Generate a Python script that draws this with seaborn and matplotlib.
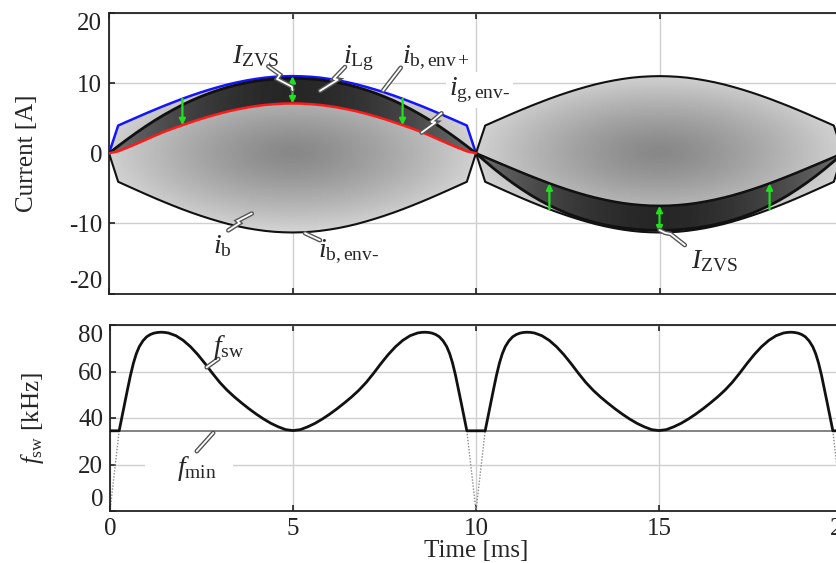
import numpy as np
import matplotlib
matplotlib.use("Agg")
import matplotlib.pyplot as plt
import matplotlib.patheffects as pe
from matplotlib.patches import Polygon, Rectangle
import seaborn as sns

# ---- values ----
# rising quarter of a grid half period [ms]; the curves are symmetric about 5 ms
t_rise = [0, 0.25, 0.5, 0.75, 1, 1.25, 1.5, 1.75, 2, 2.25, 2.5,
          2.75, 3, 3.25, 3.5, 3.75, 4, 4.25, 4.5, 4.75, 5]
# battery current envelopes (same lens in both half periods) [A]
ib_env_pos = [0, 3.95, 4.53, 5.10, 5.67, 6.22, 6.76, 7.27, 7.77, 8.24, 8.68,
              9.09, 9.47, 9.82, 10.12, 10.38, 10.60, 10.78, 10.90, 10.97, 11.0]
ib_env_neg = [0, -4.07, -4.66, -5.25, -5.83, -6.40, -6.95, -7.48, -7.99, -8.47, -8.92,
              -9.34, -9.73, -10.09, -10.40, -10.67, -10.89, -11.07, -11.20, -11.27, -11.30]
# grid current i_Lg and envelope i_g,env- in the positive half period [A]
ilg_1 = [0, 1.02, 2.00, 2.94, 3.84, 4.69, 5.48, 6.21, 6.90, 7.52, 8.08,
         8.59, 9.04, 9.44, 9.78, 10.06, 10.29, 10.47, 10.60, 10.67, 10.70]
igenv_1 = [0, 0.28, 0.80, 1.35, 1.92, 2.50, 3.05, 3.54, 4.00, 4.45, 4.88,
           5.27, 5.64, 5.97, 6.26, 6.51, 6.72, 6.89, 7.00, 7.08, 7.10]
# the same in the negative half period [A]
ilg_2 = [0, -1.15, -2.25, -3.28, -4.25, -5.15, -5.99, -6.75, -7.43, -8.05, -8.61,
         -9.09, -9.52, -9.88, -10.19, -10.44, -10.65, -10.80, -10.91, -10.98, -11.0]
igenv_2 = [0, -0.55, -1.11, -1.66, -2.21, -2.75, -3.28, -3.79, -4.29, -4.76, -5.20,
           -5.61, -5.99, -6.33, -6.63, -6.89, -7.11, -7.28, -7.40, -7.48, -7.50]
arrow_times = [2, 5, 8]

# switching frequency, first half of one grid half period [ms], [kHz]
t_fsw_rise = [0.25, 0.32, 0.40, 0.48, 0.56, 0.64, 0.72, 0.80, 0.90, 1.0, 1.1, 1.2,
              1.3, 1.4, 1.5, 1.6, 1.8, 2.0, 2.2, 2.4, 2.6, 2.8, 3.0, 3.2, 3.4,
              3.6, 3.8, 4.0, 4.2, 4.4, 4.6, 4.8, 5.0]
fsw_rise = [34.5, 40.0, 46.2, 52.4, 58.4, 63.6, 67.7, 70.7, 73.2, 74.9, 75.9, 76.5,
            76.8, 76.9, 76.8, 76.55, 75.4, 73.4, 70.65, 67.25, 63.35, 59.2, 55.3, 51.95, 49.05,
            46.42, 43.94, 41.64, 39.54, 37.69, 36.19, 35.0, 34.6]
f_min = 34.5


def mirror_t(t):
    t = np.asarray(t, float)
    return np.r_[t, 10 - t[-2::-1]]


def mirror_v(v):
    v = np.asarray(v, float)
    return np.r_[v, v[-2::-1]]


# ---- style ----
sns.set_theme(style="white")
plt.rcParams["font.family"] = ["Liberation Serif", "DejaVu Serif"]
plt.rcParams.update({
    "mathtext.fontset": "custom",
    "mathtext.rm": "Liberation Serif",
    "mathtext.it": "Liberation Serif:italic",
    "mathtext.bf": "Liberation Serif:bold",
    "axes.edgecolor": "#222222",
    "axes.linewidth": 1.3,
    "axes.unicode_minus": False,
})
FS = 18
GRID = "#cfcfcf"


def shaded_region(ax, t, top, bottom, shade, z):
    verts = np.column_stack([np.r_[t, t[::-1]], np.r_[top, bottom[::-1]]])
    patch = Polygon(verts, closed=True, facecolor="none", edgecolor="none")
    ax.add_patch(patch)
    xs = np.linspace(t[0], t[-1], 300)
    ys = np.linspace(-12, 12, 240)
    X, Y = np.meshgrid(xs, ys)
    im = ax.imshow(shade(X - (t[0] + t[-1]) / 2, Y), extent=[t[0], t[-1], -12, 12],
                   origin="lower", cmap="gray", vmin=0, vmax=1, aspect="auto",
                   interpolation="bilinear", zorder=z)
    im.set_clip_path(patch)


def lens_shade(dx, y):
    r = np.clip(np.sqrt((dx / 5.3) ** 2 + (y / 11.5) ** 2), 0, 1)
    return 0.53 + 0.31 * r ** 1.3


def band_shade(dx, y):
    r = np.clip(np.abs(dx) / 5.0, 0, 1)
    return 0.15 + 0.28 * r ** 1.7


def line(ax, x, y, color, lw, z=3, **kw):
    sns.lineplot(x=list(x), y=list(y), ax=ax, color=color, linewidth=lw,
                 estimator=None, sort=False, legend=False, zorder=z, **kw)


def leader(ax, pts):
    xs, ys = zip(*pts)
    ax.plot(xs, ys, color="white", lw=1.3, zorder=6, solid_joinstyle="miter",
            path_effects=[pe.Stroke(linewidth=3.3, foreground="#555555"), pe.Normal()])


def label(ax, x, y, s, **kw):
    ax.text(x, y, s, fontsize=20, ha="left", va="baseline", zorder=7, **kw)


fig = plt.figure(figsize=(8.36, 5.63), dpi=100)
ax1 = fig.add_axes([109 / 836, 1 - 293.5 / 563, 734 / 836, 280.5 / 563])
ax2 = fig.add_axes([110 / 836, 1 - 511 / 563, 732 / 836, 186 / 563])

# ---- currents ----
t1 = mirror_t(t_rise)
t2 = t1 + 10
env_p = mirror_v(ib_env_pos)
env_n = mirror_v(ib_env_neg)
lg1, ge1 = mirror_v(ilg_1), mirror_v(igenv_1)
lg2, ge2 = mirror_v(ilg_2), mirror_v(igenv_2)

for tt in (t1, t2):
    shaded_region(ax1, tt, env_p, env_n, lens_shade, 1)
shaded_region(ax1, t1, lg1, ge1, band_shade, 2)
shaded_region(ax1, t2, ge2, lg2, band_shade, 2)

# positive half period
line(ax1, t1, env_n, "#111111", 1.5)
line(ax1, t1, env_p, "#1414ff", 1.8)
line(ax1, t1, lg1, "#111111", 2.0)
line(ax1, t1, ge1, "#ff1a1a", 1.8, z=4)
# negative half period
line(ax1, t2, env_n, "#111111", 1.5)
line(ax1, t2, env_p, "#111111", 1.5)
line(ax1, t2, ge2, "#111111", 1.8)
line(ax1, t2, lg2, "#111111", 2.0)

tl = list(t1)
for ta in arrow_times:
    i = tl.index(ta)
    style = "<|-|>" if ta == 5 else "-|>"
    ax1.annotate("", xy=(ta, ge1[i]), xytext=(ta, env_p[i]), zorder=5,
                 arrowprops=dict(arrowstyle=style, color="#1ee01e", lw=1.6,
                                 mutation_scale=9, shrinkA=0, shrinkB=0))
    ax1.annotate("", xy=(ta + 10, ge2[i]), xytext=(ta + 10, env_n[i]), zorder=5,
                 arrowprops=dict(arrowstyle=style, color="#1ee01e", lw=1.6,
                                 mutation_scale=9, shrinkA=0, shrinkB=0))

# labels with leader lines
label(ax1, 3.35, 12.9, r"$I_{\mathrm{ZVS}}$")
leader(ax1, [(4.34, 12.4), (4.66, 11.2), (4.58, 10.6), (4.98, 9.5), (5.0, 9.0)])
label(ax1, 6.38, 12.9, r"$i_{\mathrm{Lg}}$")
leader(ax1, [(6.43, 12.3), (6.12, 10.6), (6.24, 10.5), (5.75, 8.9)])
label(ax1, 7.98, 12.9, r"$i_{\mathrm{b,env+}}$")
leader(ax1, [(7.95, 12.2), (7.47, 8.95)])
label(ax1, 9.26, 8.33, r"$i_{\mathrm{g,env\text{-}}}$",
      bbox=dict(facecolor="white", edgecolor="none", pad=2.5))
leader(ax1, [(9.06, 5.7), (8.78, 4.45), (8.9, 4.4), (8.52, 2.95)])
label(ax1, 2.83, -14.2, r"$i_{\mathrm{b}}$")
leader(ax1, [(3.25, -11.0), (3.56, -9.95), (3.5, -9.65), (3.89, -8.6)])
label(ax1, 5.69, -14.8, r"$i_{\mathrm{b,env\text{-}}}$")
leader(ax1, [(5.75, -12.4), (5.34, -11.4)])
label(ax1, 15.86, -16.4, r"$I_{\mathrm{ZVS}}$")
leader(ax1, [(15.69, -13.1), (15.3, -11.5), (15.15, -11.35), (15.0, -10.95)])

ax1.set_xlim(0, 20)
ax1.set_ylim(-20, 20)
ax1.set_xticks([0, 5, 10, 15, 20])
ax1.set_yticks([-20, -10, 0, 10, 20])
ax1.set_xticklabels([])
ax1.set_ylabel("Current [A]", fontsize=FS, va="center")
ax1.yaxis.set_label_coords((27 - 109) / 734, 0.5)

# ---- switching frequency ----
ax2.axhline(f_min, color="#6e6e6e", lw=1.2, zorder=2)
ax2.add_patch(Rectangle((0.96, 13.4), 2.4, 12.1, facecolor="white",
                        edgecolor="none", zorder=1.5))
t_per = mirror_t(t_fsw_rise)
f_per = mirror_v(fsw_rise)
t_all = np.r_[0, t_per, 10, t_per + 10, 20]
f_all = np.r_[f_min, f_per, f_min, f_per, f_min]
line(ax2, t_all, f_all, "#111111", 2.0)
for xs, ys in (([0, t_per[0]], [0, f_min]),
               ([t_per[-1], 10, t_per[0] + 10], [f_min, 0, f_min]),
               ([t_per[-1] + 10, 20], [f_min, 0])):
    ax2.plot(xs, ys, color="#8a8a8a", lw=1.0, ls=(0, (1, 1.2)), zorder=2)

label(ax2, 2.81, 67.5, r"$f_{\mathrm{sw}}$")
leader(ax2, [(2.96, 65.4), (2.64, 61.8)])
label(ax2, 1.83, 15.6, r"$f_{\mathrm{min}}$")
leader(ax2, [(2.37, 25.7), (2.82, 33.6)])

ax2.set_xlim(0, 20)
ax2.set_ylim(0, 80)
ax2.set_xticks([0, 5, 10, 15, 20])
ax2.set_yticks([0, 20, 40, 60, 80])
ax2.set_ylabel(r"$f_{\mathrm{sw}}$ [kHz]", fontsize=FS, va="center")
ax2.yaxis.set_label_coords((32 - 110) / 732, 0.5)
ax2.set_xlabel("Time [ms]", fontsize=FS, va="center")
ax2.xaxis.set_label_coords(0.5, (511 - 551) / 186)

for ax in (ax1, ax2):
    ax.grid(True, color=GRID, lw=1.0)
    ax.set_axisbelow(True)
    ax.tick_params(direction="in", top=True, bottom=True, left=True, right=True,
                   length=4, width=1.2, labelsize=FS, pad=5, colors="#222222")
    ticks = ax.yaxis.get_major_ticks()
    ticks[0].label1.set_va("bottom")
    ticks[-1].label1.set_va("top")

fig.savefig("out.png", dpi=100)
